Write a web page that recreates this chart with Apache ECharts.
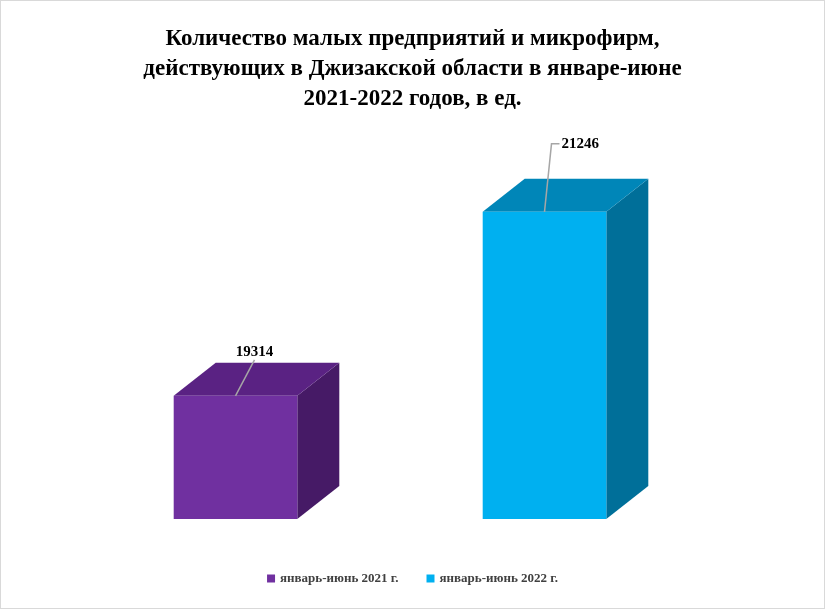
<!DOCTYPE html>
<html>
<head>
<meta charset="utf-8">
<script src="https://cdn.jsdelivr.net/npm/echarts@6/dist/echarts.min.js"></script>
<style>
  html, body { margin: 0; padding: 0; background: #fff; }
  #main { width: 823px; height: 607px; border: 1px solid #d9d9d9; }
</style>
</head>
<body>
<div id="main"></div>
<script>
// Количество малых предприятий
var categories = ['январь-июнь 2021 г.', 'январь-июнь 2022 г.'];
var values = [19314, 21246];
var frontColors = ['#7030a0', '#00b0f0'];
var topColors = ['#5a2283', '#0086b8'];
var sideColors = ['#461a66', '#006f99'];
var labelOffsets = [[19, -44], [7, -68]];

var chart = echarts.init(document.getElementById('main'));

function renderBar(params, api) {
  var idx = api.value(0);
  var top = api.coord([idx, api.value(1)]);
  var base = api.coord([idx, 18020]);
  var w = api.size([1, 0])[0] * 0.4;
  var dx = 42, dy = -33;
  var x0 = top[0] - w / 2, x1 = top[0] + w / 2;
  var y0 = top[1], y1 = base[1];
  var off = labelOffsets[idx];
  var lx = top[0] + off[0], ly = y0 + off[1];
  var line = idx === 1
    ? [[top[0], y0], [lx, ly], [lx + 8, ly]]
    : [[top[0], y0], [lx, ly + 8]];
  return {
    type: 'group',
    children: [
      { type: 'polygon', shape: { points: [[x1, y0], [x1 + dx, y0 + dy], [x1 + dx, y1 + dy], [x1, y1]] },
        style: { fill: sideColors[idx] } },
      { type: 'polygon', shape: { points: [[x0, y0], [x0 + dx, y0 + dy], [x1 + dx, y0 + dy], [x1, y0]] },
        style: { fill: topColors[idx] } },
      { type: 'rect', shape: { x: x0, y: y0, width: w, height: y1 - y0 },
        style: { fill: frontColors[idx] } },
      { type: 'polyline', shape: { points: line }, style: { stroke: '#a6a6a6', lineWidth: 1.5, fill: null } },
      { type: 'text', x: idx === 1 ? lx + 10 : lx, y: ly,
        style: { text: String(api.value(1)), fill: '#000', font: 'bold 15px "Liberation Serif"',
          align: idx === 1 ? 'left' : 'center', verticalAlign: 'middle' } }
    ]
  };
}

var option = {
  title: {
    text: 'Количество малых предприятий и микрофирм,\nдействующих в Джизакской области в январе-июне\n2021-2022 годов, в ед.',
    left: 'center', top: 18,
    textStyle: { fontFamily: 'Liberation Serif', fontWeight: 'bold', fontSize: 23, lineHeight: 30, color: '#000' }
  },
  legend: {
    bottom: 18, left: 'center', itemWidth: 8, itemHeight: 8, itemGap: 28,
    data: categories.map(function (c, i) { return { name: c, icon: 'rect', itemStyle: { color: frontColors[i] } }; }),
    textStyle: { fontFamily: 'Liberation Serif', fontWeight: 'bold', fontSize: 13, color: '#404040' }
  },
  grid: { left: 80, right: 125, top: 139, bottom: 89 },
  xAxis: { type: 'category', data: [0, 1], show: false },
  yAxis: { type: 'value', min: 18020, max: 22000, show: false },
  series: categories.map(function (c, i) {
    return { name: c, type: 'custom', renderItem: renderBar,
      itemStyle: { color: frontColors[i] },
      encode: { x: 0, y: 1 }, data: [[i, values[i]]] };
  })
};
chart.setOption(option);
</script>
</body>
</html>
